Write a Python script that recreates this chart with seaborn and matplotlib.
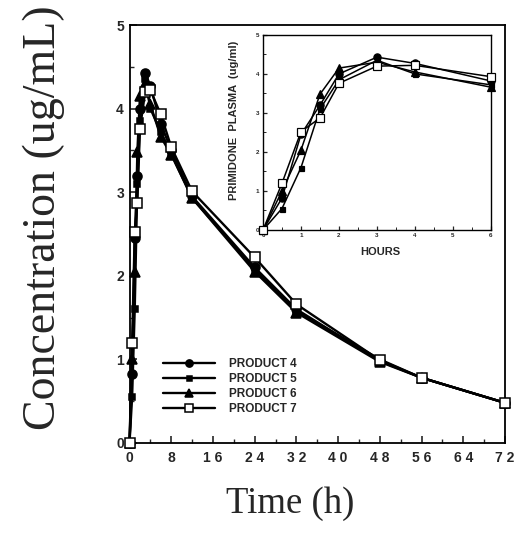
import matplotlib
matplotlib.use("Agg")
import matplotlib.pyplot as plt
import seaborn as sns
import pandas as pd
from matplotlib.ticker import MultipleLocator, FixedLocator

# Sampling times (h) and plasma concentrations (ug/mL) for each product
hours = [0, 0.5, 1, 1.5, 2, 3, 4, 6, 8, 12, 24, 32, 48, 56, 72]
product_4 = [0, 0.82, 2.45, 3.20, 4.00, 4.43, 4.27, 3.82, 3.50, 2.95, 2.10, 1.60, 0.98, 0.78, 0.48]
product_5 = [0, 0.55, 1.60, 3.10, 3.85, 4.35, 4.00, 3.72, 3.46, 2.93, 2.08, 1.58, 1.00, 0.78, 0.48]
product_6 = [0, 1.00, 2.05, 3.48, 4.15, 4.30, 4.05, 3.66, 3.45, 2.93, 2.05, 1.56, 0.97, 0.78, 0.48]
product_7 = [0, 1.20, 2.52, 2.87, 3.76, 4.20, 4.22, 3.93, 3.54, 3.01, 2.22, 1.66, 0.99, 0.78, 0.48]

products = ["PRODUCT 4", "PRODUCT 5", "PRODUCT 6", "PRODUCT 7"]
series = [product_4, product_5, product_6, product_7]

main_xticks = [0, 8, 16, 24, 32, 40, 48, 56, 64, 72]
main_xticklabels = ["0", "8", "1 6", "2 4", "3 2", "4 0", "4 8", "5 6", "6 4", "7 2"]
main_yticks = [0, 1, 2, 3, 4, 5]
inset_xticks = [0, 1, 2, 3, 4, 5, 6]
inset_yticks = [0, 1, 2, 3, 4, 5]
inset_end = 6

df = pd.DataFrame({
    "time": hours * len(products),
    "conc": [v for s in series for v in s],
    "product": [p for p in products for _ in hours],
})

sns.set_theme(style="white")
plt.rcParams["font.family"] = ["Liberation Sans", "DejaVu Sans"]

markers = {"PRODUCT 4": "o", "PRODUCT 5": "s", "PRODUCT 6": "^", "PRODUCT 7": "s"}
sizes = {"PRODUCT 4": 6.5, "PRODUCT 5": 4.5, "PRODUCT 6": 6.5, "PRODUCT 7": 7}
faces = {"PRODUCT 4": "black", "PRODUCT 5": "black", "PRODUCT 6": "black", "PRODUCT 7": "white"}

fig = plt.figure(figsize=(5.25, 5.33), dpi=100)
ax = fig.add_axes([0.2467, 0.1689, 0.7153, 0.7841])


def draw(axis, data, ms_scale, lw):
    for p in products:
        sub = data[data["product"] == p]
        sns.lineplot(data=sub, x="time", y="conc", ax=axis, color="black",
                     linewidth=lw, marker=markers[p],
                     markersize=sizes[p] * ms_scale,
                     markerfacecolor=faces[p], markeredgecolor="black",
                     markeredgewidth=1.1 * ms_scale, label=p, clip_on=False,
                     zorder=3 if p == "PRODUCT 7" else 2)


draw(ax, df, 1.0, 1.7)

ax.set_xlim(0, 72)
ax.set_ylim(0, 5)
ax.xaxis.set_major_locator(FixedLocator(main_xticks))
ax.set_xticklabels(main_xticklabels)
ax.xaxis.set_minor_locator(MultipleLocator(4))
ax.set_yticks(main_yticks)
ax.yaxis.set_minor_locator(MultipleLocator(0.5))
ax.tick_params(axis="both", which="major", direction="in", length=5, width=1.2,
               labelsize=10, bottom=True, left=True)
ax.tick_params(axis="x", which="major", pad=6)
ax.tick_params(axis="y", which="major", pad=4)
ax.tick_params(axis="both", which="minor", direction="in", length=3, width=1,
               bottom=True, left=True)
for lbl in ax.get_xticklabels() + ax.get_yticklabels():
    lbl.set_fontweight("bold")
for s in ax.spines.values():
    s.set_color("black")
    s.set_linewidth(1.3)

ax.set_xlabel("Time (h)", fontfamily="Liberation Serif", fontsize=26.5)
ax.xaxis.set_label_coords(0.427, -0.105)
ax.set_ylabel("Concentration (ug/mL)", fontfamily="Liberation Serif", fontsize=33)
ax.yaxis.set_label_coords(-0.172, 0.54)

ax.legend(loc="lower left", bbox_to_anchor=(0.06, 0.042), frameon=False,
          handlelength=4.4, handletextpad=1.2, labelspacing=0.25, markerscale=0.8,
          prop={"weight": "bold", "size": 8.5})

# Inset: first six hours
ins = fig.add_axes([0.501, 0.5685, 0.434, 0.366])
draw(ins, df[df["time"] <= inset_end], 0.8, 1.1)
ins.get_legend().remove()
ins.set_xlim(0, inset_end)
ins.set_ylim(0, 5)
ins.set_xticks(inset_xticks)
ins.set_yticks(inset_yticks)
ins.xaxis.set_minor_locator(MultipleLocator(0.5))
ins.yaxis.set_minor_locator(MultipleLocator(0.5))
ins.tick_params(axis="both", which="major", direction="in", length=3, width=0.9,
                labelsize=4.5, pad=2.5, bottom=True, left=True)
ins.tick_params(axis="both", which="minor", direction="in", length=2, width=0.7,
                bottom=True, left=True)
for lbl in ins.get_xticklabels() + ins.get_yticklabels():
    lbl.set_fontweight("bold")
for s in ins.spines.values():
    s.set_color("black")
    s.set_linewidth(1.0)
ins.set_xlabel("HOURS", fontsize=8, fontweight="bold")
ins.xaxis.set_label_coords(0.513, -0.085)
ins.set_ylabel("PRIMIDONE  PLASMA  (ug/ml)", fontsize=8, fontweight="bold")
ins.yaxis.set_label_coords(-0.105, 0.56)

fig.savefig("out.png", dpi=100)
